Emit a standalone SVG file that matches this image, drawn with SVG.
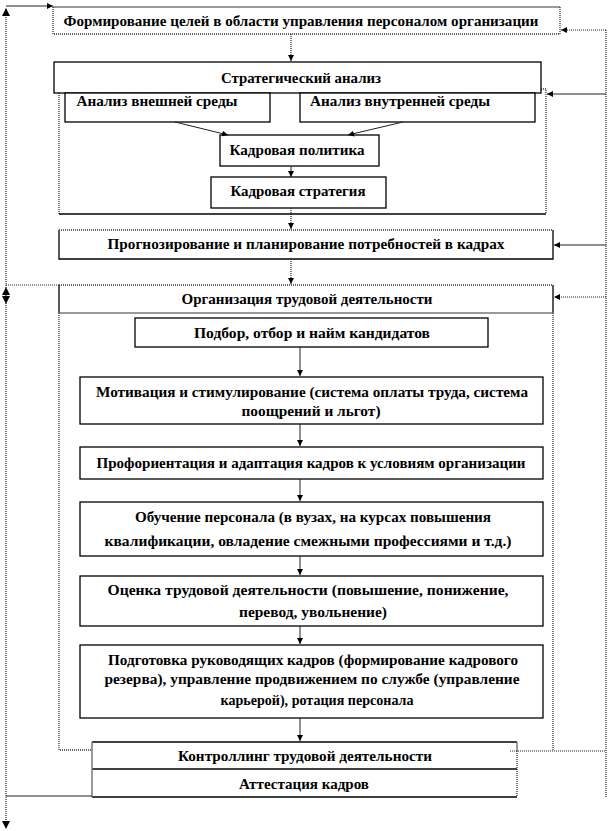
<svg xmlns="http://www.w3.org/2000/svg" width="611" height="831" viewBox="0 0 611 831">
<defs>
<marker id="ah" viewBox="0 0 10 10" refX="10" refY="5" markerWidth="6" markerHeight="6" orient="auto" markerUnits="userSpaceOnUse">
<path d="M0,0 L10,5 L0,10 z" fill="#000"/>
</marker>
<style>
.t{font-family:"Liberation Serif","Times New Roman",serif;font-weight:bold;font-size:15px;fill:#000;text-anchor:middle}
.b{fill:#fff;stroke:#000;stroke-width:1.3}
.s{stroke:#000;stroke-width:1.3;fill:none}
.g{stroke:#777;stroke-width:1.5;fill:none}
.d{stroke:#333;stroke-width:1.3;stroke-dasharray:1 1;fill:none}
.c{stroke:#222;stroke-width:1;fill:none}
.cd{stroke:#222;stroke-width:1.2;stroke-dasharray:1 1;fill:none}
</style>
</defs>
<rect width="611" height="831" fill="#fff"/>

<g id="goals">
<line class="g" x1="53" y1="7" x2="560" y2="7"/>
<path class="d" d="M53,7 V34 H560 V7"/>
<text class="t" x="301" y="26" textLength="475" lengthAdjust="spacingAndGlyphs">Формирование целей в области управления персоналом организации</text>
</g>

<g id="strategic">
<path class="d" d="M59,93 V214"/>
<path class="d" d="M541,89 H546 V214"/>
<line class="s" x1="59" y1="214" x2="546" y2="214"/>
<rect class="b" x="54" y="62" width="487" height="31"/>
<text class="t" x="301" y="83" textLength="160" lengthAdjust="spacingAndGlyphs">Стратегический анализ</text>
</g>

<g id="external">
<rect class="b" x="65" y="93" width="205" height="29"/>
<text class="t" x="157" y="106" textLength="161" lengthAdjust="spacingAndGlyphs">Анализ внешней среды</text>
</g>

<g id="internal">
<rect class="b" x="300" y="93" width="235" height="29"/>
<text class="t" x="400" y="106" textLength="180" lengthAdjust="spacingAndGlyphs">Анализ внутренней среды</text>
</g>

<g id="policy">
<rect class="b" x="220" y="135" width="159" height="31"/>
<text class="t" x="297" y="155" textLength="135" lengthAdjust="spacingAndGlyphs">Кадровая политика</text>
</g>

<g id="strategy">
<rect class="b" x="211" y="177" width="175" height="31"/>
<text class="t" x="298" y="196" textLength="135" lengthAdjust="spacingAndGlyphs">Кадровая стратегия</text>
</g>

<g id="forecast">
<path class="s" d="M59,230 V259 H553 V230"/>
<line class="d" x1="59" y1="230" x2="553" y2="230"/>
<text class="t" x="306" y="249" textLength="397" lengthAdjust="spacingAndGlyphs">Прогнозирование и планирование потребностей в кадрах</text>
</g>

<g id="organization">
<line class="d" x1="59" y1="285" x2="553" y2="285"/>
<path class="s" d="M59,285 V313 M553,285 V313"/>
<line class="g" x1="59" y1="313" x2="553" y2="313" stroke-width="2"/>
<path class="d" d="M59,313 V750 H92"/>
<path class="d" d="M553,313 V750"/>
<text class="t" x="307" y="304" textLength="251" lengthAdjust="spacingAndGlyphs">Организация трудовой деятельности</text>
</g>

<g id="selection">
<rect class="b" x="135" y="318" width="353" height="29"/>
<text class="t" x="312" y="338" textLength="236" lengthAdjust="spacingAndGlyphs">Подбор, отбор и найм кандидатов</text>
</g>

<g id="motivation">
<rect class="b" x="80" y="377" width="463" height="47"/>
<text class="t" x="312" y="397" textLength="432" lengthAdjust="spacingAndGlyphs">Мотивация и стимулирование (система оплаты труда, система</text>
<text class="t" x="311" y="416" textLength="139" lengthAdjust="spacingAndGlyphs">поощрений и льгот)</text>
</g>

<g id="orientation">
<rect class="b" x="80" y="447" width="463" height="32"/>
<text class="t" x="311" y="468" textLength="429" lengthAdjust="spacingAndGlyphs">Профориентация и адаптация кадров к условиям организации</text>
</g>

<g id="training">
<rect class="b" x="80" y="502" width="463" height="54"/>
<text class="t" x="313" y="522" textLength="356" lengthAdjust="spacingAndGlyphs">Обучение персонала (в вузах, на курсах повышения</text>
<text class="t" x="308" y="546" textLength="407" lengthAdjust="spacingAndGlyphs">квалификации, овладение смежными профессиями и т.д.)</text>
</g>

<g id="evaluation">
<rect class="b" x="80" y="576" width="463" height="50"/>
<text class="t" x="308" y="595" textLength="401" lengthAdjust="spacingAndGlyphs">Оценка трудовой деятельности (повышение, понижение,</text>
<text class="t" x="313" y="617" textLength="148" lengthAdjust="spacingAndGlyphs">перевод, увольнение)</text>
</g>

<g id="management">
<rect class="b" x="80" y="645" width="463" height="73"/>
<text class="t" x="313" y="665" textLength="410" lengthAdjust="spacingAndGlyphs">Подготовка руководящих кадров (формирование кадрового</text>
<text class="t" x="312" y="684" textLength="415" lengthAdjust="spacingAndGlyphs">резерва), управление продвижением по службе (управление</text>
<text class="t" x="317" y="705" textLength="193" lengthAdjust="spacingAndGlyphs">карьерой), ротация персонала</text>
</g>

<g id="controlling">
<path class="s" d="M92,742 H517 M92,769 H517 M92,797 H517"/>
<line class="g" x1="92" y1="742" x2="92" y2="797"/>
<line class="g" x1="517" y1="742" x2="517" y2="751"/>
<line class="d" x1="517" y1="751" x2="517" y2="797"/>
<text class="t" x="305" y="761" textLength="254" lengthAdjust="spacingAndGlyphs">Контроллинг трудовой деятельности</text>
</g>

<g id="attestation">
<text class="t" x="304" y="789" textLength="130" lengthAdjust="spacingAndGlyphs">Аттестация кадров</text>
</g>

<g id="connectors">
<line class="cd" x1="291" y1="34" x2="291" y2="61" marker-end="url(#ah)"/>
<line class="c" x1="175" y1="122" x2="228" y2="135" marker-end="url(#ah)"/>
<line class="c" x1="403" y1="122" x2="348" y2="135" marker-end="url(#ah)"/>
<line class="c" x1="291" y1="166" x2="291" y2="177" marker-end="url(#ah)"/>
<line class="cd" x1="291" y1="208" x2="291" y2="229" marker-end="url(#ah)"/>
<line class="cd" x1="291" y1="259" x2="291" y2="284" marker-end="url(#ah)"/>
<line class="c" x1="300" y1="347" x2="300" y2="376" marker-end="url(#ah)"/>
<line class="c" x1="300" y1="424" x2="300" y2="446" marker-end="url(#ah)"/>
<line class="c" x1="300" y1="479" x2="300" y2="501" marker-end="url(#ah)"/>
<line class="c" x1="300" y1="556" x2="300" y2="575" marker-end="url(#ah)"/>
<line class="c" x1="300" y1="626" x2="300" y2="644" marker-end="url(#ah)"/>
<line class="c" x1="300" y1="718" x2="300" y2="741" marker-end="url(#ah)"/>

<line class="cd" x1="6" y1="826" x2="6" y2="9"/>
<path d="M2,16 L6,8 L10,16 z" fill="#000"/>
<path d="M2,821 L6,829 L10,821 z" fill="#000"/>
<line class="c" x1="6" y1="6" x2="53" y2="6" marker-end="url(#ah)"/>
<line class="c" x1="6" y1="796" x2="92" y2="796"/>
<line class="cd" x1="6" y1="285" x2="59" y2="285"/>
<path d="M2,295 L6,287 L10,295 z M2,296 L6,304 L10,296 z" fill="#000"/>

<line class="cd" x1="606" y1="30" x2="606" y2="797"/>
<line class="cd" x1="606" y1="30" x2="561" y2="30" marker-end="url(#ah)"/>
<line class="c" x1="606" y1="94" x2="547" y2="94" marker-end="url(#ah)"/>
<line class="c" x1="606" y1="245" x2="554" y2="245" marker-end="url(#ah)"/>
<line class="cd" x1="606" y1="297" x2="554" y2="297" marker-end="url(#ah)"/>
<line class="cd" x1="510" y1="751" x2="606" y2="751"/>
</g>
</svg>
